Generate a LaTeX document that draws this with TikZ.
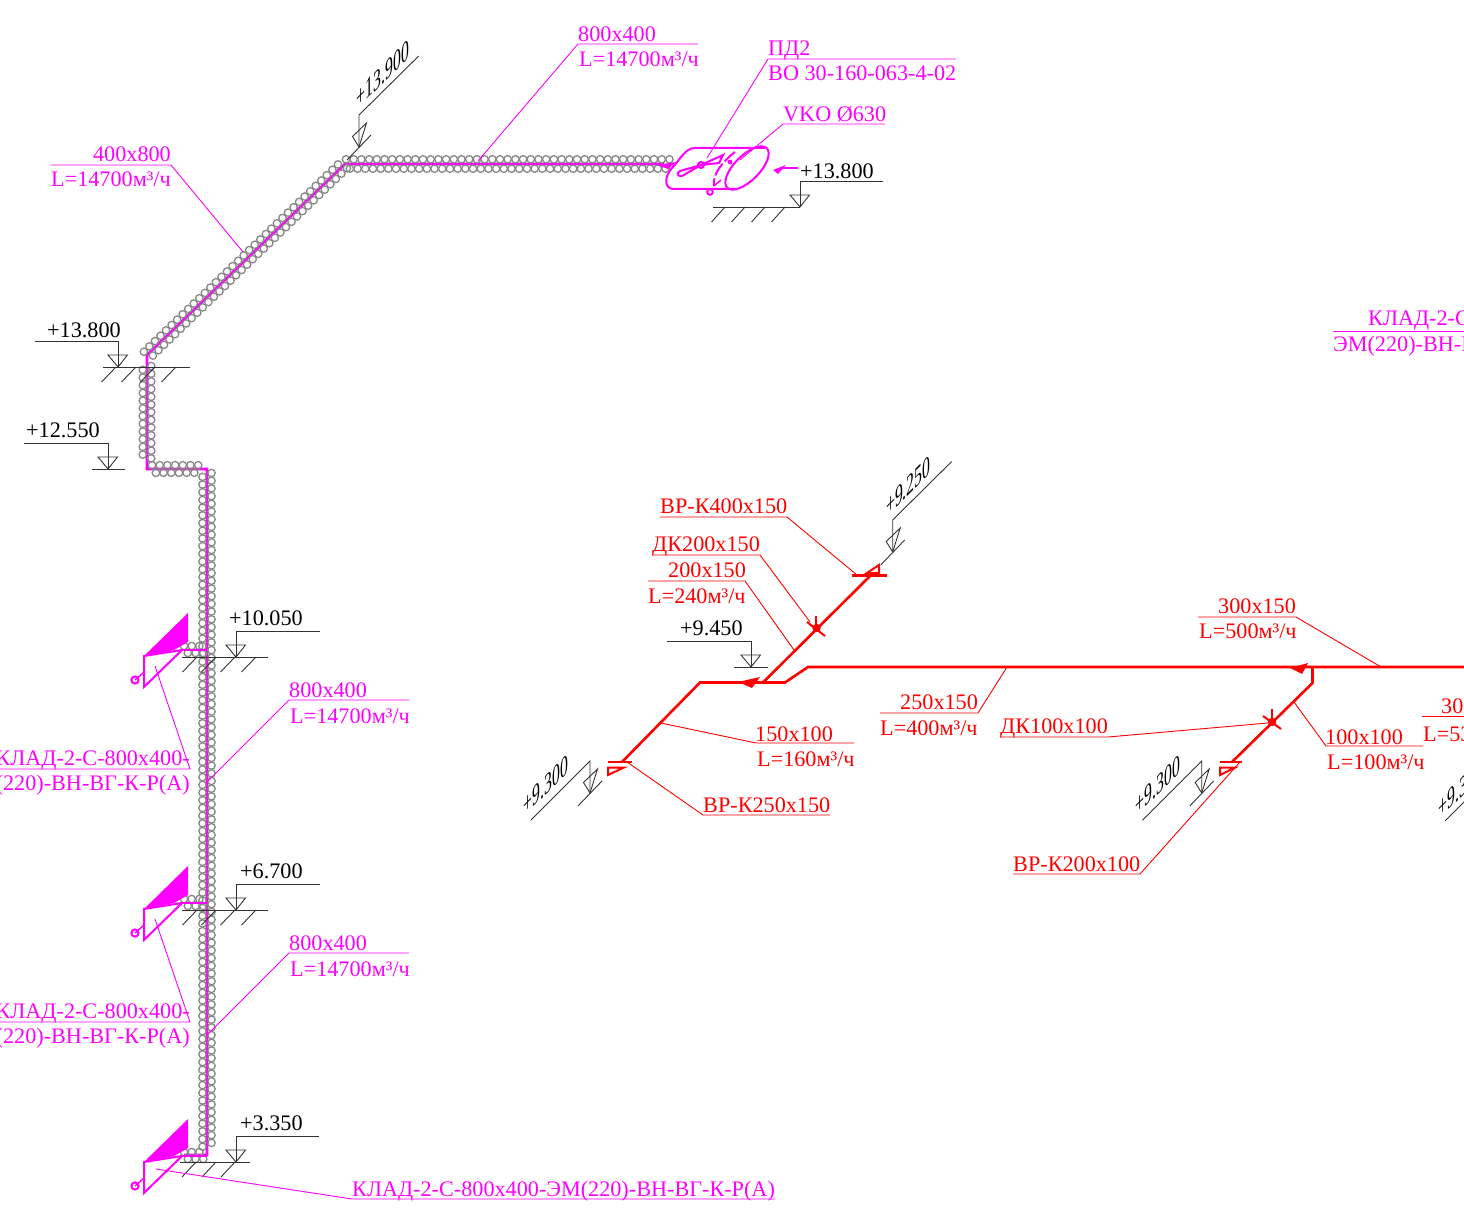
\documentclass[tikz,border=0pt]{standalone}
\usepackage{fontspec}
\setmainfont{Liberation Serif}
\usetikzlibrary{calc}
\definecolor{topcolor}{RGB}{255,0,255}
\definecolor{botcolor}{RGB}{255,0,0}
\definecolor{coilcolor}{RGB}{135,135,135}
\definecolor{levelcolor}{RGB}{50,50,50}

\tikzset{
    labeltext/.style={anchor=base west, inner sep=0pt, font=\fontsize{22.2}{26}\selectfont},
    righttext/.style={labeltext, anchor=base east},
    levelline/.style={color=levelcolor, line width=0.9pt},
    leadline/.style={line width=0.9pt},
    ductline/.style={line width=2.6pt},
    hoodline/.style={color=topcolor, line width=2pt},
    coilring/.style={color=coilcolor, line width=1.3pt}
}

% level mark: name, tip, flag length
\newcommand{\levelflat}[3]{
    \coordinate (#1) at (#2);
    \draw[levelline] (#1) -- ++(0,-26) -- ++(#3,0);
    \draw[levelline] (#1) -- ++(-10,-12) -- ++(19.5,0) -- cycle;
}
% slanted level mark: name, tip, flag end offset, text corner, text
\newcommand{\levelslant}[5]{
    \coordinate (#1) at (#2);
    \draw[levelline] (#1) -- ++(0,-32) -- ++(#3);
    \draw[levelline] (#1) -- ++(7.5,-24) -- ++(-14,13.5) -- cycle;
    \draw[levelline] ($(#1)+(12,-12)$) -- ($(#1)+(-12,13)$);
    \node[labeltext, transform shape, cm={0.71,0.71,0,1.3,(#4)}] (#1text) at (0,0) {#5};
}
% coil rings along a run: start x, start y, dir x, dir y, last index, half width
\newcommand{\coilrun}[6]{
    \foreach \k in {0,...,#5}{
        \pgfmathsetmacro{\sd}{(2*mod(\k,2)-1)*#6}
        \draw[coilring] ({#1+#3*3.85*\k-#4*\sd},{#2+#4*3.85*\k+#3*\sd}) circle[radius=3.7];
    }
}
% leader with shelf: name, tip, shelf start, shelf length, colour
\newcommand{\leader}[5]{
    \coordinate (#1tip) at (#2);
    \coordinate (#1shelf) at (#3);
    \draw[leadline, color=#5] (#1tip) -- (#1shelf) -- ++(#4,0);
}

\begin{document}
\begin{tikzpicture}[x=1pt, y=-1pt]
    \useasboundingbox (0,0) rectangle (1464,1214);

    % supply duct
    \draw[ductline, color=topcolor] (664,164) -- (345,164) -- (147,355) -- (147,469) -- (207,469) -- (207,1155) -- (184,1155);
    \coilrun{346}{164}{1}{0}{84}{4.7}
    \coilrun{147}{355}{0.72}{-0.695}{71}{4.5}
    \coilrun{147}{366}{0}{1}{24}{4.2}
    \coilrun{152}{469}{1}{0}{12}{3.8}
    \coilrun{207}{473}{0}{1}{175}{4.5}

    % hoods
    \foreach \dy in {0,253,506}{
        \begin{scope}[shift={(0,\dy)}]
            \coilrun{184}{649.5}{1}{0}{5}{3.5}
            \draw[hoodline] (182,650) -- (207,650);
            \fill[color=topcolor] (144,656) -- (188,613) -- (188,642) -- (174,650) -- cycle;
            \draw[hoodline] (182,650) -- (144,656) -- (144,687) -- (182,650);
            \draw[hoodline] (135,680) circle[radius=3.6];
            \draw[hoodline, line width=1.4pt] (135,680) -- (144,672);
        \end{scope}
    }

    % exhaust unit
    \draw[hoodline] (765,148) -- (695,148) .. controls (685,148) and (680,160) .. (672,168) .. controls (664,177) and (664,189) .. (674,189) -- (737,189);
    \draw[hoodline, rotate around={45:(747,168)}] (747,168) ellipse[x radius=28, y radius=12.5];
    \draw[hoodline] (701,165) -- (680,171) .. controls (676,173) and (678,177) .. (682,176) -- cycle;
    \draw[hoodline] (701,165) -- (723,155) -- (719,163) -- cycle;
    \draw[hoodline] (701,165) circle[radius=3];
    \draw[hoodline, dashed, dash pattern=on 14pt off 3pt] (735,152) .. controls (722,162) and (712,175) .. (714,186);
    \draw[hoodline, line width=1.5pt] (714,186) -- (721,180);
    \fill[color=topcolor] (730,162) circle[radius=2.4];
    \draw[hoodline] (710,192) circle[radius=2.8];
    \fill[color=topcolor] (657,165) -- (676,162) -- (668,169) -- cycle;
    \draw[hoodline] (798,168) -- (783,168);
    \fill[color=topcolor] (773,170) -- (786,165) -- (778,174) -- cycle;

    % branch
    \draw[ductline, color=botcolor] (1464,667) -- (808,667) -- (785,682.5) -- (700,682.5) -- (622,762);
    \draw[ductline, color=botcolor] (763,682.5) -- (870,576);
    \draw[ductline, color=botcolor] (1312.5,667) -- (1312.5,683) -- (1232,762);
    \fill[color=botcolor] (738,682) -- (760,677) -- (752,688) -- cycle;
    \fill[color=botcolor] (1290,668) -- (1308,663) -- (1302,674) -- cycle;

    % dampers
    \draw[color=botcolor, line width=2.2pt] (852,575.5) -- (887,575.5);
    \draw[color=botcolor, line width=2pt] (867,573) -- (879,565) -- (879,573) -- cycle;
    \draw[color=botcolor, line width=2.2pt] (608,762) -- (632,762);
    \draw[color=botcolor, line width=2pt] (608,767.5) -- (624,767.5) -- (608,775) -- cycle;
    \draw[color=botcolor, line width=2.2pt] (1220,762) -- (1242,762);
    \draw[color=botcolor, line width=2pt] (1220,767.5) -- (1235,767.5) -- (1220,775) -- cycle;
    \draw[color=botcolor, line width=2pt] (807,622) -- (825,636);
    \draw[color=botcolor, line width=2pt] (816,616) -- (816,630);
    \fill[color=botcolor] (816.5,628) circle[radius=4.2];
    \draw[color=botcolor, line width=2pt] (1263,716) -- (1281,729);
    \draw[color=botcolor, line width=2pt] (1272,709) -- (1272,722);
    \fill[color=botcolor] (1272,722) circle[radius=4.2];

    % levels
    \levelflat{lvlunit}{800,207}{83}
    \draw[levelline] (713,207) -- (lvlunit);
    \foreach \x in {725,745,765,785} \draw[levelline] (\x,207) -- ++(-13.5,15);
    \levelflat{lvlbend}{118,367}{-83}
    \draw[levelline] (103,367) -- (190,367);
    \foreach \x in {116,136,155,176} \draw[levelline] (\x,367) -- ++(-14.5,15);
    \levelflat{lvldrop}{108,469}{-84}
    \draw[levelline] (92,469) -- (125,469);
    \levelflat{lvlhoodA}{236,657}{84}
    \levelflat{lvlhoodB}{236,910}{84}
    \levelflat{lvlhoodC}{236,1162}{83}
    \foreach \y in {657,910} {
        \draw[levelline] (182,\y) -- (268,\y);
        \foreach \x in {197,216,235,256} \draw[levelline] (\x,\y) -- ++(-14.5,15);
    }
    \draw[levelline] (180,1162) -- (250,1162);
    \foreach \x in {196,216,235} \draw[levelline] (\x,1162) -- ++(-14,15);
    \levelflat{lvlbranch}{751,667}{-84}
    \draw[levelline] (734,667) -- (768,667);

    \levelslant{lvltop}{359,147}{59.7,-59}{356.6,110}{+13.900}
    \levelslant{lvlinlet}{892.7,552}{59,-58.5}{886,518}{+9.250}
    \levelslant{lvlleft}{590,793}{-59.3,59.3}{523.7,817}{+9.300}
    \levelslant{lvlmid}{1201.7,793}{-59.3,59.3}{1135.4,817}{+9.300}
    \coordinate (lvlfarA) at (1445,821);
    \coordinate (lvlfarB) at (1464,802);
    \draw[levelline] (lvlfarA) -- (lvlfarB);
    \node[labeltext, transform shape, cm={0.71,0.71,0,1.3,(1438.6,820)}] (lvlfartext) at (0,0) {+9.3};

    \node[labeltext] (txtunit) at (800,179) {+13.800};
    \node[labeltext] (txtbend) at (47,337.5) {+13.800};
    \node[labeltext] (txtdrop) at (26,437) {+12.550};
    \node[labeltext] (txthoodA) at (229,625) {+10.050};
    \node[labeltext] (txthoodB) at (240,878) {+6.700};
    \node[labeltext] (txthoodC) at (240,1130) {+3.350};
    \node[labeltext] (txtbranch) at (680,635) {+9.450};

    % magenta labels
    \leader{topA}{478,161}{578,44}{120}{topcolor}
    \node[labeltext, color=topcolor] (sizeA) at (578,42) {800x400};
    \node[labeltext, color=topcolor] (flowA) at (579,67) {L=14700м³/ч};
    \leader{topB}{707,158}{768,59}{188}{topcolor}
    \node[labeltext, color=topcolor] (unitA) at (768,56) {ПД2};
    \node[labeltext, color=topcolor] (unitB) at (768,81) {ВО 30-160-063-4-02};
    \leader{topC}{740,160}{783,124}{102}{topcolor}
    \node[labeltext, color=topcolor] (valveA) at (783,122) {VKO Ø630};
    \coordinate (topDtip) at (243,252);
    \coordinate (topDshelf) at (171,165);
    \draw[leadline, color=topcolor] (topDtip) -- (topDshelf) -- (51,165);
    \node[righttext, color=topcolor] (sizeD) at (171,162) {400x800};
    \node[labeltext, color=topcolor] (flowD) at (51,187) {L=14700м³/ч};

    \foreach \dy/\nm in {0/E,253/F}{
        \begin{scope}[shift={(0,\dy)}]
            \leader{top\nm}{207,782}{289,700}{120}{topcolor}
            \node[labeltext, color=topcolor] (size\nm) at (289,697) {800x400};
            \node[labeltext, color=topcolor] (flow\nm) at (290,723) {L=14700м³/ч};
            \coordinate (hood\nm tip) at (155,666);
            \coordinate (hood\nm shelf) at (190,769);
            \draw[leadline, color=topcolor] (hood\nm tip) -- (hood\nm shelf) -- (0,769);
            \node[righttext, color=topcolor] (hood\nm a) at (190,765) {КЛАД-2-С-800x400-};
            \node[righttext, color=topcolor] (hood\nm b) at (190,790) {(220)-ВН-ВГ-К-Р(А)};
        \end{scope}
    }
    \leader{hoodG}{156,1169}{352,1199}{423}{topcolor}
    \node[labeltext, color=topcolor] (hoodGa) at (352,1196) {КЛАД-2-С-800x400-ЭМ(220)-ВН-ВГ-К-Р(А)};
    \coordinate (farshelf) at (1333,331);
    \draw[leadline, color=topcolor] (farshelf) -- (1464,331);
    \node[labeltext, color=topcolor] (farA) at (1368,326) {КЛАД-2-С};
    \node[labeltext, color=topcolor] (farB) at (1333,352) {ЭМ(220)-ВН-В};

    % red labels
    \leader{redA}{857,575}{787,517}{-127}{botcolor}
    \node[labeltext, color=botcolor] (redAa) at (660,513) {ВР-К400x150};
    \leader{redB}{810,622}{760,555}{-108}{botcolor}
    \node[labeltext, color=botcolor] (redBa) at (652,551) {ДК200x150};
    \leader{redC}{794,650}{745,581}{-97}{botcolor}
    \node[labeltext, color=botcolor] (redCa) at (668,577) {200x150};
    \node[labeltext, color=botcolor] (redCb) at (648,603) {L=240м³/ч};
    \leader{redD}{661,723}{756,743}{98}{botcolor}
    \node[labeltext, color=botcolor] (redDa) at (755,741) {150x100};
    \node[labeltext, color=botcolor] (redDb) at (757,766) {L=160м³/ч};
    \leader{redE}{627,762}{703,815}{127}{botcolor}
    \node[labeltext, color=botcolor] (redEa) at (703,812) {ВР-К250x150};
    \leader{redF}{1007,667}{978,713}{-98}{botcolor}
    \node[labeltext, color=botcolor] (redFa) at (900,709) {250x150};
    \node[labeltext, color=botcolor] (redFb) at (880,735) {L=400м³/ч};
    \leader{redG}{1268,723}{1108,737}{-108}{botcolor}
    \node[labeltext, color=botcolor] (redGa) at (1000,733) {ДК100x100};
    \leader{redH}{1381,667}{1296,617}{-98}{botcolor}
    \node[labeltext, color=botcolor] (redHa) at (1218,613) {300x150};
    \node[labeltext, color=botcolor] (redHb) at (1199,638) {L=500м³/ч};
    \leader{redI}{1294,702}{1326,746}{97}{botcolor}
    \node[labeltext, color=botcolor] (redIa) at (1325,744) {100x100};
    \node[labeltext, color=botcolor] (redIb) at (1327,769) {L=100м³/ч};
    \leader{redJ}{1240,762}{1140,874}{-127}{botcolor}
    \node[labeltext, color=botcolor] (redJa) at (1013,871) {ВР-К200x100};
    \coordinate (redKshelf) at (1422,716);
    \draw[leadline, color=botcolor] (redKshelf) -- (1464,716);
    \node[labeltext, color=botcolor] (redKa) at (1441,713) {30};
    \node[labeltext, color=botcolor] (redKb) at (1423,741) {L=53};
\end{tikzpicture}
\end{document}
